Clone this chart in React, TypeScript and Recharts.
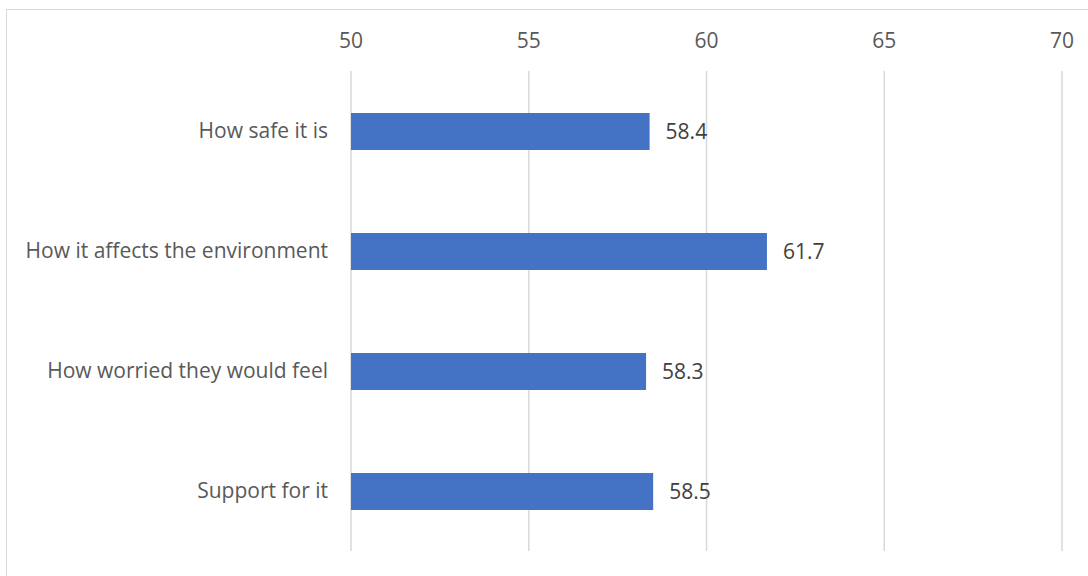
import { BarChart, Bar, XAxis, YAxis, CartesianGrid, LabelList } from 'recharts';

const categories = [
  'How safe it is',
  'How it affects the environment',
  'How worried they would feel',
  'Support for it',
];
const scores = [58.4, 61.7, 58.3, 58.5];
const xTicks = [50, 55, 60, 65, 70];

const data = categories.map((name, i) => ({ name, score: scores[i] }));

const FONT = '"Open Sans", sans-serif';

export default function App() {
  return (
    <div style={{ position: 'absolute', left: 0, top: 0, width: 1088, height: 576, background: '#fff', overflow: 'hidden' }}>
      <div
        style={{
          position: 'absolute',
          left: 6,
          top: 9,
          width: 1200,
          height: 700,
          border: '1px solid #d9d9d9',
        }}
      />
      <div style={{ position: 'absolute', left: 0, top: 0 }}>
        <BarChart
          width={1088}
          height={576}
          data={data}
          layout="vertical"
          margin={{ top: 0, right: 26, bottom: 25, left: 0 }}
        >
          <CartesianGrid horizontal={false} stroke="#d9d9d9" strokeWidth={1.5} />
          <XAxis
            type="number"
            orientation="top"
            domain={[50, 70]}
            ticks={xTicks}
            height={71}
            axisLine={false}
            tickLine={false}
            tickMargin={17}
            tick={{ fill: '#595959', fontSize: 21, fontFamily: FONT }}
          />
          <YAxis
            type="category"
            dataKey="name"
            width={351}
            axisLine={false}
            tickLine={false}
            tickMargin={17}
            tick={{ fill: '#595959', fontSize: 21, fontFamily: FONT }}
          />
          <Bar dataKey="score" fill="#4472C4" barSize={37} isAnimationActive={false}>
            <LabelList
              dataKey="score"
              position="right"
              offset={16}
              fill="#404040"
              fontSize={21}
              fontFamily={FONT}
            />
          </Bar>
        </BarChart>
      </div>
    </div>
  );
}
